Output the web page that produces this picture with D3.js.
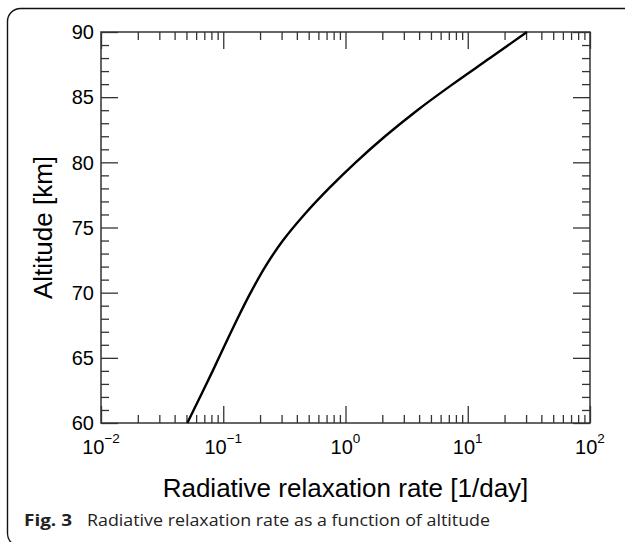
<!DOCTYPE html>
<html>
<head>
<meta charset="utf-8">
<script src="https://cdn.jsdelivr.net/npm/d3@7"></script>
<style>
html,body{margin:0;padding:0;background:#fff;}
svg{display:block;}
</style>
</head>
<body>
<svg id="chart" width="625" height="542"></svg>
<script>
// ---- data ----
const altitudes = [60, 62, 64, 66, 68, 70, 72, 74, 76, 78, 80, 82, 84, 86, 88, 90];
const rates     = [0.0508, 0.0646, 0.0820, 0.1033, 0.1306, 0.1675, 0.2208, 0.3076, 0.4613, 0.7311, 1.213, 2.109, 3.873, 7.551, 15.21, 30.48];
const xMajorTicks = [0.01, 0.1, 1, 10, 100];
const xTickExponents = ["\u22122", "\u22121", "0", "1", "2"];
const yMajorTicks = [60, 65, 70, 75, 80, 85, 90];
const xLabel = "Radiative relaxation rate [1/day]";
const yLabel = "Altitude [km]";
const captionBold = "Fig. 3";
const captionText = "Radiative relaxation rate as a function of altitude";

const svg = d3.select("#chart");
const m = {left: 101, right: 590, top: 32, bottom: 423};
const x = d3.scaleLog().domain([0.01, 100]).range([m.left, m.right]);
const y = d3.scaleLinear().domain([60, 90]).range([m.bottom, m.top]);

// outer rounded frame
svg.append("rect")
  .attr("x", 7.5).attr("y", 8.5).attr("width", 630).attr("height", 538)
  .attr("rx", 13).attr("ry", 13)
  .attr("fill", "none").attr("stroke", "#111").attr("stroke-width", 1.4);

// minor tick values
const xMinor = [];
for (let e = -2; e < 2; e++) for (let k = 2; k <= 9; k++) xMinor.push(k * Math.pow(10, e));
const yMinor = d3.range(60, 91).filter(v => v % 5 !== 0);

const tickColor = "#333";
const MAJ = 17, MIN = 8;
function styleAxis(g) {
  g.select(".domain").remove();
  g.selectAll(".tick line").attr("stroke", tickColor).attr("stroke-width", 1.3);
  g.selectAll(".tick text").remove();
}
// bottom
svg.append("g").attr("transform", `translate(0,${m.bottom})`)
  .call(d3.axisBottom(x).tickValues(xMajorTicks).tickSize(-MAJ).tickFormat("")).call(styleAxis);
svg.append("g").attr("transform", `translate(0,${m.bottom})`)
  .call(d3.axisBottom(x).tickValues(xMinor).tickSize(-MIN).tickFormat("")).call(styleAxis);
// top
svg.append("g").attr("transform", `translate(0,${m.top})`)
  .call(d3.axisTop(x).tickValues(xMajorTicks).tickSize(-MAJ).tickFormat("")).call(styleAxis);
svg.append("g").attr("transform", `translate(0,${m.top})`)
  .call(d3.axisTop(x).tickValues(xMinor).tickSize(-MIN).tickFormat("")).call(styleAxis);
// left
svg.append("g").attr("transform", `translate(${m.left},0)`)
  .call(d3.axisLeft(y).tickValues(yMajorTicks).tickSize(-MAJ).tickFormat("")).call(styleAxis);
svg.append("g").attr("transform", `translate(${m.left},0)`)
  .call(d3.axisLeft(y).tickValues(yMinor).tickSize(-MIN).tickFormat("")).call(styleAxis);
// right
svg.append("g").attr("transform", `translate(${m.right},0)`)
  .call(d3.axisRight(y).tickValues(yMajorTicks).tickSize(-MAJ).tickFormat("")).call(styleAxis);
svg.append("g").attr("transform", `translate(${m.right},0)`)
  .call(d3.axisRight(y).tickValues(yMinor).tickSize(-MIN).tickFormat("")).call(styleAxis);

// plot frame
svg.append("rect")
  .attr("x", m.left).attr("y", m.top)
  .attr("width", m.right - m.left).attr("height", m.bottom - m.top)
  .attr("fill", "none").attr("stroke", tickColor).attr("stroke-width", 1.5);

// curve
const line = d3.line()
  .x((d, i) => x(rates[i]))
  .y(d => y(d))
  .curve(d3.curveMonotoneY);
svg.append("path").datum(altitudes)
  .attr("d", line)
  .attr("fill", "none").attr("stroke", "#000").attr("stroke-width", 2.4);

const font = "'Liberation Sans', Arial, Helvetica, sans-serif";
// x tick labels 10^n
xMajorTicks.forEach((v, i) => {
  const t = svg.append("text")
    .attr("x", x(v)).attr("y", 454)
    .attr("text-anchor", "middle")
    .attr("font-family", font).attr("font-size", 20).attr("fill", "#000");
  t.append("tspan").text("10");
  t.append("tspan").attr("dy", -11).attr("font-size", 13.5).text(xTickExponents[i]);
});
// y tick labels
yMajorTicks.forEach(v => {
  svg.append("text")
    .attr("x", 94).attr("y", y(v)).attr("dy", "0.36em")
    .attr("text-anchor", "end")
    .attr("font-family", font).attr("font-size", 20).attr("fill", "#000")
    .text(v);
});

// axis titles
svg.append("text")
  .attr("x", (m.left + m.right) / 2).attr("y", 497)
  .attr("text-anchor", "middle")
  .attr("font-family", font).attr("font-size", 26).attr("fill", "#000")
  .text(xLabel);
svg.append("text")
  .attr("transform", `translate(52,${(m.top + m.bottom) / 2}) rotate(-90)`)
  .attr("text-anchor", "middle")
  .attr("font-family", font).attr("font-size", 26).attr("fill", "#000")
  .text(yLabel);

// caption
const capFont = "'Open Sans', 'Noto Sans', sans-serif";
svg.append("text")
  .attr("x", 24).attr("y", 526)
  .attr("font-family", capFont).attr("font-weight", "bold").attr("font-size", 16.5)
  .attr("fill", "#222")
  .attr("textLength", 48).attr("lengthAdjust", "spacingAndGlyphs")
  .text(captionBold);
svg.append("text")
  .attr("x", 87).attr("y", 526)
  .attr("font-family", capFont).attr("font-size", 16.5)
  .attr("fill", "#222")
  .attr("textLength", 403).attr("lengthAdjust", "spacingAndGlyphs")
  .text(captionText);
</script>
</body>
</html>
